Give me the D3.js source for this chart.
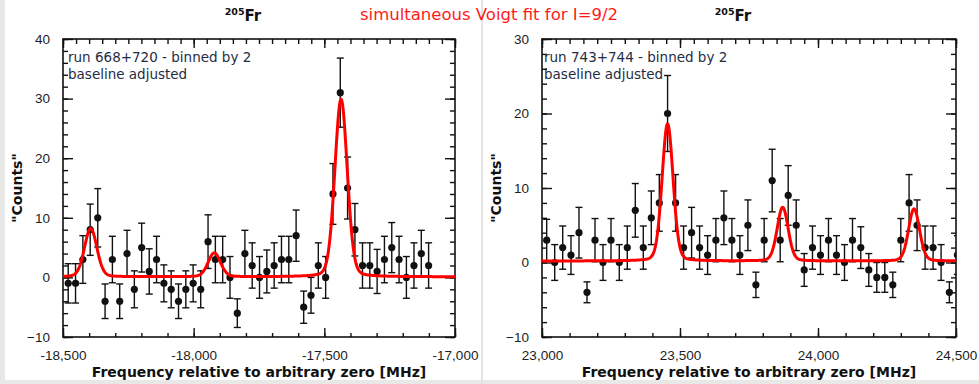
<!DOCTYPE html>
<html>
<head>
<meta charset="utf-8">
<script src="https://cdn.jsdelivr.net/npm/d3@7"></script>
<style>
  html, body { margin: 0; padding: 0; background: #fff; }
  svg { display: block; font-family: "DejaVu Sans", sans-serif; }
  .tick text { fill: #1c1c24; font-size: 13.5px; }
  .note { fill: #1f2d45; font-size: 13.5px; }
  .axis-title { font-weight: bold; font-size: 14px; fill: #111; }
</style>
</head>
<body>
<svg id="chart" width="979" height="384"></svg>
<script>
// left run: 668+720, binned by 2
const leftFreq = [-18480, -18452, -18424, -18396, -18367, -18339, -18311, -18283, -18255, -18227,
  -18199, -18170, -18142, -18114, -18086, -18058, -18030, -18002, -17973, -17945,
  -17917, -17889, -17861, -17833, -17804, -17776, -17748, -17720, -17692, -17664,
  -17636, -17608, -17579, -17551, -17523, -17495, -17467, -17439, -17411, -17383,
  -17354, -17326, -17298, -17270, -17242, -17214, -17186, -17157, -17129, -17101];
const leftCounts = [-1, -1, 3, 8, 10, -4, 3, -4, 4, -2,
  5, 1, 3, -1, -2, -4, -2, -1, -2, 6,
  3, 3, 0, -6, 4, 2, 0, 1, 2, 3,
  3, 7, -5, -3, 2, 0, 14, 31, 15, 8,
  2, 2, 1, 3, 5, 3, 0, 2, 4, 2];
const leftErr = [3.3, 3.3, 4.0, 4.3, 4.9, 2.9, 3.9, 2.9, 3.9, 3.1,
  4.1, 3.8, 3.9, 3.1, 3.1, 2.9, 3.1, 3.1, 3.1, 4.5,
  3.9, 3.9, 3.5, 2.4, 3.9, 3.8, 3.5, 3.6, 3.8, 3.9,
  3.9, 4.3, 2.7, 3.0, 3.8, 3.5, 5.1, 5.8, 5.2, 4.4,
  3.8, 3.8, 3.7, 3.9, 4.2, 3.9, 3.5, 3.8, 3.9, 3.8];

// right run: 743+744, binned by 2
const rightFreq = [23017, 23046, 23075, 23105, 23134, 23163, 23192, 23221, 23250, 23280,
  23309, 23338, 23367, 23396, 23425, 23455, 23484, 23513, 23542, 23571,
  23600, 23630, 23659, 23688, 23717, 23746, 23775, 23805, 23834, 23863,
  23892, 23921, 23950, 23980, 24009, 24038, 24067, 24096, 24125, 24155,
  24184, 24213, 24242, 24271, 24300, 24330, 24359, 24388, 24417, 24446,
  24476, 24505];
const rightCounts = [3, 0, 2, 1, 4, -4, 3, 0, 3, 0,
  2, 7, 2, 6, 8, 20, 8, 2, 4, 2,
  1, 3, 6, 3, 1, 5, -3, 3, 11, 3,
  9, 5, -1, 2, 1, 3, 1, 0, 3, 2,
  -1, -2, -2, -3, 3, 8, 5, 2, 2, 0,
  -4, 1];
const rightErr = [2.8, 2.4, 2.9, 2.6, 3.4, 1.4, 2.9, 2.4, 2.9, 2.4,
  2.9, 3.6, 2.9, 3.6, 3.8, 5.1, 3.8, 2.9, 3.4, 2.9,
  2.6, 2.9, 3.6, 2.9, 2.6, 3.4, 1.7, 2.9, 4.2, 2.9,
  4.0, 3.4, 2.2, 2.9, 2.6, 2.9, 2.6, 2.4, 2.9, 2.8,
  2.2, 2.0, 2.0, 1.7, 2.9, 3.8, 3.4, 2.9, 2.9, 2.4,
  1.4, 2.6];

// Voigt fit parameters (simultaneous fit, I=9/2)
const leftPeakCenters = [-18394, -17921, -17436];
const leftPeakHeights = [8.1, 4.0, 29.8];
const leftBaseline = 0.1;
const leftFwhm = 56;
const rightPeakCenters = [23455, 23872, 24348];
const rightPeakHeights = [18.4, 7.2, 7.0];
const rightBaseline = 0.2;
const rightFwhm = 47;
const voigtEta = 0.15;

const leftYTicks = [-10, 0, 10, 20, 30, 40];
const rightYTicks = [-10, 0, 10, 20, 30];

const svg = d3.select('#chart');
const fmt = d3.formatLocale({ decimal: '.', thousands: ',', grouping: [3], currency: ['', ''], minus: '-' }).format(',');

// page furniture: grey strips from the screenshot
svg.append('rect').attr('x', 0).attr('y', 0).attr('width', 5).attr('height', 384).attr('fill', '#e8e8e6');
svg.append('rect').attr('x', 0).attr('y', 380).attr('width', 979).attr('height', 4).attr('fill', '#e8e8e6');
svg.append('rect').attr('x', 481).attr('y', 0).attr('width', 2).attr('height', 384).attr('fill', '#e4e4e2');

svg.append('text')
  .attr('x', 489).attr('y', 20)
  .attr('text-anchor', 'middle')
  .style('fill', '#ff1a1a').style('font-size', '16.5px')
  .text('simultaneous Voigt fit for I=9/2');

function pseudoVoigt(x, centers, heights, base, w) {
  let s = base;
  centers.forEach((c, i) => {
    const t = (x - c) / w;
    const g = Math.exp(-4 * Math.LN2 * t * t);
    const l = 1 / (1 + 4 * t * t);
    s += heights[i] * (voigtEta * l + (1 - voigtEta) * g);
  });
  return s;
}

function drawPanel(p) {
  const g = svg.append('g');
  const x = d3.scaleLinear().domain(p.xDomain).range([p.left, p.right]);
  const y = d3.scaleLinear().domain(p.yDomain).range([p.bottom, p.top]);

  const clipId = 'clip' + p.id;
  g.append('clipPath').attr('id', clipId)
    .append('rect')
    .attr('x', p.left).attr('y', p.top)
    .attr('width', p.right - p.left).attr('height', p.bottom - p.top);

  // minor / major ticks, all pointing inward
  const xMinor = d3.range(p.xDomain[0], p.xDomain[1] + 1, 100);
  const xMinorTop = d3.range(p.xDomain[0], p.xDomain[1] + 1, 50);
  const xMajor = d3.range(p.xDomain[0], p.xDomain[1] + 1, 500);
  const yMinor = d3.range(p.yDomain[0], p.yDomain[1] + 0.1, 2);

  const axes = g.append('g').attr('class', 'axes');
  axes.append('g').attr('transform', `translate(0,${p.bottom})`)
    .call(d3.axisBottom(x).tickValues(xMinor).tickSize(-4).tickFormat(''));
  axes.append('g').attr('transform', `translate(0,${p.bottom})`)
    .call(d3.axisBottom(x).tickValues(xMajor).tickSize(-9).tickPadding(13).tickFormat(fmt));
  axes.append('g').attr('transform', `translate(0,${p.top})`)
    .call(d3.axisTop(x).tickValues(xMinorTop).tickSize(-5).tickFormat(''));
  axes.append('g').attr('transform', `translate(0,${p.top})`)
    .call(d3.axisTop(x).tickValues(xMajor).tickSize(-9).tickFormat(''));
  axes.append('g').attr('transform', `translate(${p.left},0)`)
    .call(d3.axisLeft(y).tickValues(yMinor).tickSize(-5).tickFormat(''));
  axes.append('g').attr('transform', `translate(${p.left},0)`)
    .call(d3.axisLeft(y).tickValues(p.yTicks).tickSize(-10).tickPadding(13).tickFormat(d3.format('d')));
  axes.append('g').attr('transform', `translate(${p.right},0)`)
    .call(d3.axisRight(y).tickValues(yMinor).tickSize(-5).tickFormat(''));
  axes.append('g').attr('transform', `translate(${p.right},0)`)
    .call(d3.axisRight(y).tickValues(p.yTicks).tickSize(-10).tickFormat(''));
  axes.selectAll('.domain').remove();
  axes.selectAll('.tick line').attr('stroke', '#111').attr('stroke-width', 1.4);

  g.append('rect')
    .attr('x', p.left).attr('y', p.top)
    .attr('width', p.right - p.left).attr('height', p.bottom - p.top)
    .attr('fill', 'none').attr('stroke', '#111').attr('stroke-width', 1.6);

  const pts = p.freq.map((f, i) => ({ f, v: p.counts[i], e: p.err[i] }));
  const plot = g.append('g').attr('clip-path', `url(#${clipId})`);

  // error bars
  const eb = plot.selectAll('.eb').data(pts).enter().append('g').attr('class', 'eb')
    .attr('stroke', '#111').attr('stroke-width', 1.4);
  eb.append('line')
    .attr('x1', d => x(d.f)).attr('x2', d => x(d.f))
    .attr('y1', d => y(d.v - d.e)).attr('y2', d => y(d.v + d.e));
  eb.append('line')
    .attr('x1', d => x(d.f) - 3.5).attr('x2', d => x(d.f) + 3.5)
    .attr('y1', d => y(d.v - d.e)).attr('y2', d => y(d.v - d.e));
  eb.append('line')
    .attr('x1', d => x(d.f) - 3.5).attr('x2', d => x(d.f) + 3.5)
    .attr('y1', d => y(d.v + d.e)).attr('y2', d => y(d.v + d.e));

  plot.selectAll('.dot').data(pts).enter().append('circle')
    .attr('class', 'dot')
    .attr('cx', d => x(d.f)).attr('cy', d => y(d.v))
    .attr('r', 3.6).attr('fill', '#111');

  // fit curve
  const fx = d3.range(p.xDomain[0], p.xDomain[1] + 1, 2);
  const line = d3.line()
    .x(d => x(d))
    .y(d => y(pseudoVoigt(d, p.centers, p.heights, p.base, p.fwhm)));
  plot.append('path')
    .datum(fx)
    .attr('d', line)
    .attr('fill', 'none')
    .attr('stroke', '#ff0000')
    .attr('stroke-width', 3)
    .attr('stroke-linejoin', 'round');

  // labels
  g.append('text').attr('class', 'note')
    .attr('x', p.left + p.noteDx).attr('y', p.top + 23).text(p.note);
  g.append('text').attr('class', 'note')
    .attr('x', p.left + p.noteDx).attr('y', p.top + 40).text('baseline adjusted');

  const midX = (p.left + p.right) / 2;
  g.append('text').attr('class', 'axis-title')
    .attr('x', midX).attr('y', 377)
    .attr('text-anchor', 'middle')
    .text('Frequency relative to arbitrary zero [MHz]');

  g.append('text').attr('class', 'axis-title')
    .attr('transform', `translate(${p.left - 41},${(p.top + p.bottom) / 2}) rotate(-90)`)
    .attr('text-anchor', 'middle')
    .text('"Counts"');

  const iso = g.append('text')
    .attr('x', p.isoX).attr('y', 21)
    .attr('text-anchor', 'middle')
    .style('font-weight', 'bold').style('fill', '#111');
  iso.append('tspan').attr('dy', -6).style('font-size', '9.5px').text('205');
  iso.append('tspan').attr('dy', 6).style('font-size', '15px').text('Fr');
}

drawPanel({
  id: 'L', left: 63, right: 455, top: 39, bottom: 337,
  xDomain: [-18500, -17000], yDomain: [-10, 40], yTicks: leftYTicks,
  freq: leftFreq, counts: leftCounts, err: leftErr,
  centers: leftPeakCenters, heights: leftPeakHeights, base: leftBaseline, fwhm: leftFwhm,
  note: 'run 668+720 - binned by 2', noteDx: 5, isoX: 243
});

drawPanel({
  id: 'R', left: 542, right: 956, top: 39, bottom: 337,
  xDomain: [23000, 24500], yDomain: [-10, 30], yTicks: rightYTicks,
  freq: rightFreq, counts: rightCounts, err: rightErr,
  centers: rightPeakCenters, heights: rightPeakHeights, base: rightBaseline, fwhm: rightFwhm,
  note: 'run 743+744 - binned by 2', noteDx: 2, isoX: 733
});
</script>
</body>
</html>
